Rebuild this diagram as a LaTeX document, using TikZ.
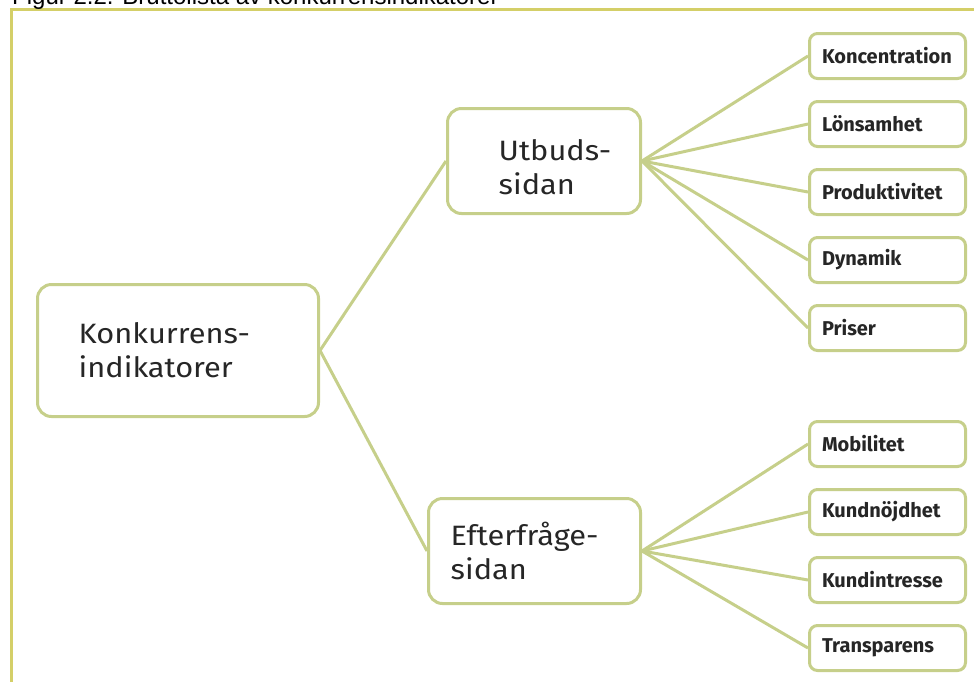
\documentclass[tikz,border=0pt]{standalone}
\usepackage{fontspec}
\setmainfont{Fira Sans}
\newfontfamily\captionfont{Liberation Sans}
\newfontfamily\widefont[FakeStretch=1.1]{Fira Sans}
\usepackage{tikz}
\usetikzlibrary{positioning,backgrounds}
\definecolor{boxline}{RGB}{198,207,138}
\definecolor{frameline}{RGB}{212,207,104}

\begin{document}
\begin{tikzpicture}[x=1pt,y=-1pt,
  bigbox/.style={draw=boxline,line width=3pt,rounded corners=14pt,fill=white,inner sep=0pt},
  bigtext/.style={inner sep=0pt,align=left,text=black!85,font=\widefont\fontsize{28}{34}\selectfont},
  leafbox/.style={draw=boxline,line width=3pt,rounded corners=8pt,fill=white,text width=131pt,
    inner xsep=12.5pt,inner ysep=0pt,minimum height=45pt,align=left,text=black!85,
    font=\bfseries\fontsize{20}{22}\selectfont},
  branch/.style={draw=boxline,line width=3pt}]
  \useasboundingbox (0,0) rectangle (974,681);
  % frame and cut caption
  \draw[frameline,line width=3pt] (11.5,690) -- (11.5,9) -- (990,9);
  \node[anchor=base west,inner sep=0pt,font=\captionfont\fontsize{24}{26}\selectfont] (caption) at (12,4)
    {Figur 2.2. Bruttolista av konkurrensindikatorer};
  % main boxes
  \node[bigbox,minimum width=281pt,minimum height=132pt] (konk) at (178,350.5) {};
  \node[bigtext,right=42.5pt of konk.west] (konktext) {Konkurrens-\\indikatorer};
  \node[bigbox,minimum width=193pt,minimum height=105pt] (utb) at (544,161) {};
  \node[bigtext,right=52.5pt of utb.west,yshift=-6pt] (utbtext) {Utbuds-\\sidan};
  \node[bigbox,minimum width=212pt,minimum height=105pt] (eft) at (534.5,551) {};
  \node[bigtext,right=23.5pt of eft.west] (efttext) {Efterfr\aa ge-\\sidan};
  % supply side
  \node[leafbox] (kon) at (887.5,56) {Koncentration};
  \node[leafbox] (lon) at (887.5,124) {L\"onsamhet};
  \node[leafbox] (pro) at (887.5,192) {Produktivitet};
  \node[leafbox] (dyn) at (887.5,260) {Dynamik};
  \node[leafbox] (pri) at (887.5,328) {Priser};
  % demand side
  \node[leafbox] (mob) at (887.5,444) {Mobilitet};
  \node[leafbox] (kno) at (887.5,512) {Kundn\"ojdhet};
  \node[leafbox] (kin) at (887.5,580) {Kundintresse};
  \node[leafbox] (tra) at (887.5,648) {Transparens};
  \begin{scope}[on background layer]
    \draw[branch] (konk.east) -- (utb.west);
    \draw[branch] (konk.east) -- (eft.west);
    \draw[branch] (utb.east) -- (kon.west);
    \draw[branch] (utb.east) -- (lon.west);
    \draw[branch] (utb.east) -- (pro.west);
    \draw[branch] (utb.east) -- (dyn.west);
    \draw[branch] (utb.east) -- (pri.west);
    \draw[branch] (eft.east) -- (mob.west);
    \draw[branch] (eft.east) -- (kno.west);
    \draw[branch] (eft.east) -- (kin.west);
    \draw[branch] (eft.east) -- (tra.west);
  \end{scope}
\end{tikzpicture}
\end{document}
